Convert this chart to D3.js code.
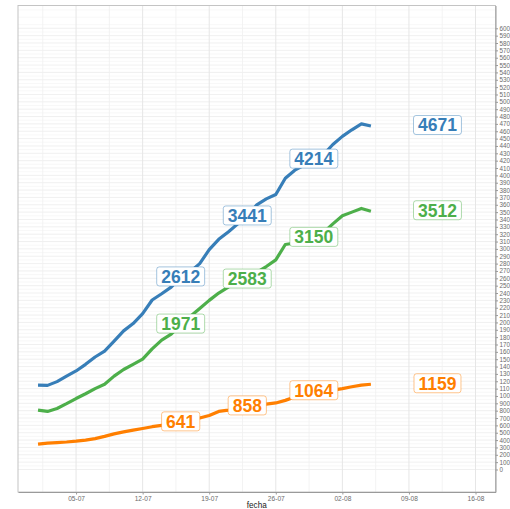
<!DOCTYPE html>
<html><head><meta charset="utf-8">
<script src="https://cdn.jsdelivr.net/npm/d3@7"></script>
<style>body{margin:0;background:#fff}svg{display:block}</style>
</head><body>
<svg id="chart" width="510" height="509"></svg>
<script>
// ---- data ----
const startDate = "2020-07-01";           // first day of the daily series
const seriesNames = ["azul", "verde", "naranja"];
const seriesColors = ["#377EB8", "#4DAF4A", "#FF7F00"];
const blueValues = [1148,1144,1195,1270,1340,1430,1530,1610,1745,1885,1985,2120,2305,2390,2480,2612,
  2690,2800,2990,3130,3230,3340,3441,3600,3680,3740,3960,4070,4140,4214,4280,4420,4530,4620,4700,4671];
const greenValues = [808,790,830,895,965,1030,1100,1160,1270,1360,1430,1500,1640,1760,1840,1971,
  2080,2190,2300,2400,2480,2540,2583,2680,2760,2850,3060,3080,3110,3150,3220,3340,3450,3500,3550,3512];
const orangeValues = [346,358,366,374,385,400,420,450,485,512,535,558,582,600,618,641,
  670,700,735,790,808,830,858,875,890,905,940,985,1010,1064,1070,1080,1100,1125,1148,1159];
const labelDates = ["2020-07-16", "2020-07-23", "2020-07-30"];
const finalLabelDate = "2020-08-12";
const xTickDates = ["2020-07-05","2020-07-12","2020-07-19","2020-07-26","2020-08-02","2020-08-09","2020-08-16"];
const xTickLabels = ["05-07","12-07","19-07","26-07","02-08","09-08","16-08"];
const yTickValues = d3.range(0, 6001, 100);
const yTickLabel = v => String(v).slice(0, 3);   // the reference shows the first 3 characters
const xTitle = "fecha";

// ---- layout ----
const W = 510, H = 509;
const P = {left: 18, right: 495.5, top: 5.5, bottom: 492};
const parse = d3.utcParse("%Y-%m-%d");
const day = 864e5;
const t0 = parse(startDate);
const x = d3.scaleUtc()
  .domain([new Date(+t0 - 2.105 * day), new Date(+t0 + 48.1 * day)])
  .range([P.left, P.right]);
const y = d3.scaleLinear().domain([-306, 6310]).range([P.bottom, P.top]);

const svg = d3.select("#chart");
const allSeries = [blueValues, greenValues, orangeValues];

// grid
const g = svg.append("g");
const yMinor = d3.range(50, 6310, 100);
g.selectAll(".ymin").data(yMinor).join("line")
  .attr("x1", P.left).attr("x2", P.right)
  .attr("y1", d => y(d)).attr("y2", d => y(d))
  .attr("stroke", "#F3F3F3").attr("stroke-width", 0.6);
g.selectAll(".ymaj").data(yTickValues).join("line")
  .attr("x1", P.left).attr("x2", P.right)
  .attr("y1", d => y(d)).attr("y2", d => y(d))
  .attr("stroke", "#E6E6E6").attr("stroke-width", 0.6);
const xMajor = xTickDates.map(parse);
const xMinor = [new Date(+xMajor[0] - 3.5 * day)].concat(xMajor.map(d => new Date(+d + 3.5 * day)))
  .filter(d => x(d) > P.left && x(d) < P.right);
g.selectAll(".xmin").data(xMinor).join("line")
  .attr("x1", d => x(d)).attr("x2", d => x(d))
  .attr("y1", P.top).attr("y2", P.bottom)
  .attr("stroke", "#F0F0F0").attr("stroke-width", 0.8);
g.selectAll(".xmaj").data(xMajor).join("line")
  .attr("x1", d => x(d)).attr("x2", d => x(d))
  .attr("y1", P.top).attr("y2", P.bottom)
  .attr("stroke", "#E6E6E6").attr("stroke-width", 1);

// panel border
svg.append("rect").attr("x", P.left).attr("y", P.top)
  .attr("width", P.right - P.left).attr("height", P.bottom - P.top)
  .attr("fill", "none").attr("stroke", "#C4C4C4").attr("stroke-width", 1);

// axes
const yAxis = d3.axisRight(y).tickValues(yTickValues).tickFormat(yTickLabel)
  .tickSize(2.5).tickSizeOuter(0).tickPadding(1.5);
const ya = svg.append("g").attr("transform", `translate(${P.right},0)`).call(yAxis);
ya.select(".domain").attr("stroke", "#9A9A9A");
ya.selectAll(".tick line").attr("stroke", "#9A9A9A");
ya.selectAll("text").attr("font-family", "Liberation Sans, Arial, sans-serif")
  .attr("font-size", 6.3).attr("fill", "#6B6B6B");

const xAxis = d3.axisBottom(x).tickValues(xMajor).tickFormat((d, i) => xTickLabels[i])
  .tickSize(2.5).tickSizeOuter(0).tickPadding(1.5);
const xa = svg.append("g").attr("transform", `translate(0,${P.bottom})`).call(xAxis);
xa.select(".domain").attr("stroke", "#9A9A9A");
xa.selectAll(".tick line").attr("stroke", "#9A9A9A");
xa.selectAll("text").attr("font-family", "Liberation Sans, Arial, sans-serif")
  .attr("font-size", 6.6).attr("fill", "#6B6B6B");

svg.append("text").attr("x", (P.left + P.right) / 2).attr("y", 507.5)
  .attr("text-anchor", "middle").attr("font-family", "Liberation Sans, Arial, sans-serif")
  .attr("font-size", 8.2).attr("fill", "#222").text(xTitle);

// lines
const dateAt = i => new Date(+t0 + i * day);
const line = d3.line().x((d, i) => x(dateAt(i))).y(d => y(d));
svg.append("g").selectAll("path").data(allSeries).join("path")
  .attr("d", d => line(d)).attr("fill", "none")
  .attr("stroke", (d, i) => seriesColors[i]).attr("stroke-width", 3.2)
  .attr("stroke-linejoin", "round").attr("stroke-linecap", "butt");

// labels
const labels = [];
allSeries.forEach((vals, si) => {
  labelDates.forEach(ds => {
    const dt = parse(ds);
    const idx = Math.round((dt - t0) / day);
    labels.push({date: dt, value: vals[idx], color: seriesColors[si]});
  });
  labels.push({date: parse(finalLabelDate), value: vals[vals.length - 1], color: seriesColors[si]});
});
const lg = svg.append("g").selectAll("g").data(labels).join("g")
  .attr("transform", d => `translate(${x(d.date)},${y(d.value) - 1})`);
lg.append("rect").attr("rx", 2.5).attr("fill", "#fff")
  .attr("stroke", d => d.color).attr("stroke-opacity", 0.45).attr("stroke-width", 1);
const texts = lg.append("text").attr("text-anchor", "middle").attr("dy", "0.36em")
  .attr("font-family", "Liberation Sans, Arial, sans-serif").attr("font-weight", "bold")
  .attr("font-size", 17.5).attr("fill", d => d.color).text(d => d.value);
texts.each(function () {
  const w = this.getComputedTextLength();
  d3.select(this.parentNode).select("rect")
    .attr("x", -w / 2 - 4.5).attr("width", w + 9).attr("y", -9.5).attr("height", 19);
});
</script>
</body></html>
